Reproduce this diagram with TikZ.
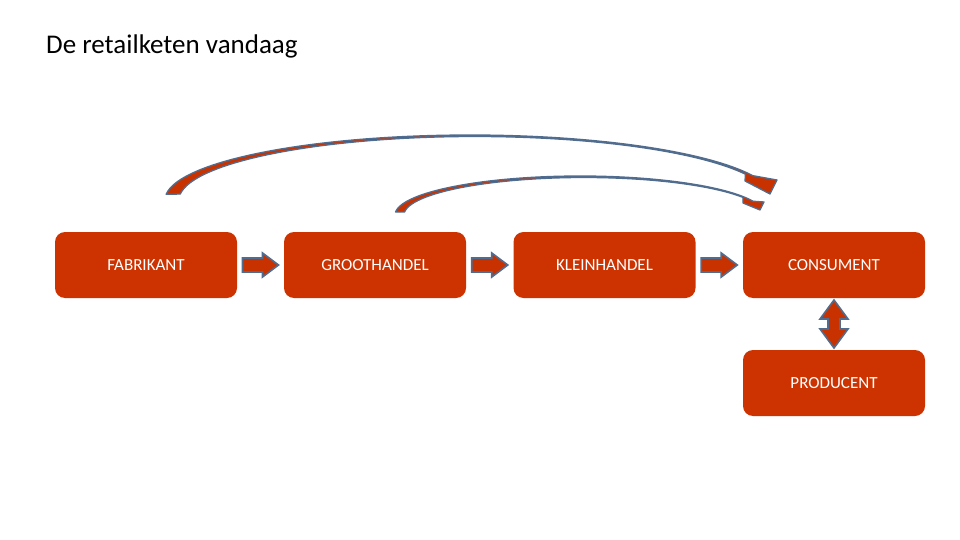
\documentclass[tikz,border=0pt]{standalone}
\usepackage{fontspec}
\setmainfont{Carlito}
\usetikzlibrary{calc}
\definecolor{boxred}{RGB}{204,51,0}
\definecolor{arrred}{RGB}{200,50,0}
\definecolor{arredge}{RGB}{80,108,142}
\begin{document}
\begin{tikzpicture}[x=1pt,y=-1pt,
  stagebox/.style={fill=boxred, rounded corners=10pt, minimum width=182pt, minimum height=66pt,
    text=white, font=\fontsize{17}{20}\selectfont, inner sep=0pt},
  blockarrow/.style={fill=arrred, draw=arredge, line width=1.6pt, line join=miter},
  curvearrow/.style={fill=arrred, draw=arredge, line width=1.3pt, line join=round}]
\useasboundingbox (0,0) rectangle (960,540);
\node[anchor=base west, font=\fontsize{27}{32}\selectfont, inner sep=0pt] (title) at (46,54) {De retailketen vandaag};

\node[stagebox] (fab) at (146,265) {FABRIKANT};
\node[stagebox] (gro) at (375,265) {GROOTHANDEL};
\node[stagebox] (kle) at (604.5,265) {KLEINHANDEL};
\node[stagebox] (con) at (834,265) {CONSUMENT};
\node[stagebox] (pro) at (834,383) {PRODUCENT};

\coordinate (m1) at ($(fab.east)!0.5!(gro.west)$);
\coordinate (m2) at ($(gro.east)!0.5!(kle.west)$);
\coordinate (m3) at ($(kle.east)!0.5!(con.west)$);
\coordinate (m4) at ($(con.south)!0.5!(pro.north)$);

\foreach \m in {m1,m2,m3}{
  \draw[blockarrow, shift={(\m)}] (-18,-7) -- (2,-7) -- (2,-12) -- (18,0) -- (2,12) -- (2,7) -- (-18,7) -- cycle;
}
\draw[blockarrow, shift={(m4)}] (0,-24) -- (14,-5) -- (6,-5) -- (6,5) -- (14,5) -- (0,24)
  -- (-14,5) -- (-6,5) -- (-6,-5) -- (-14,-5) -- cycle;

% large curved arrow: from above FABRIKANT to CONSUMENT
\draw[curvearrow]
  plot[domain=185:338, samples=60, smooth] ({470+305*cos(\x)},{200+65*sin(\x)})
  -- (777,180) -- (770,194) -- (745,181)
  -- plot[domain=336:185.4, samples=60, smooth] ({475+296*cos(\x)},{200+63.5*sin(\x)})
  -- cycle;

% small curved arrow: from above GROOTHANDEL to CONSUMENT
\draw[curvearrow]
  plot[domain=184.4:339.3, samples=50, smooth] ({580+185*cos(\x)},{215+39*sin(\x)})
  -- (764,202) -- (760,210) -- (743,203)
  -- plot[domain=332:184.6, samples=50, smooth] ({584+180*cos(\x)},{215+37.5*sin(\x)})
  -- cycle;
\end{tikzpicture}
\end{document}
